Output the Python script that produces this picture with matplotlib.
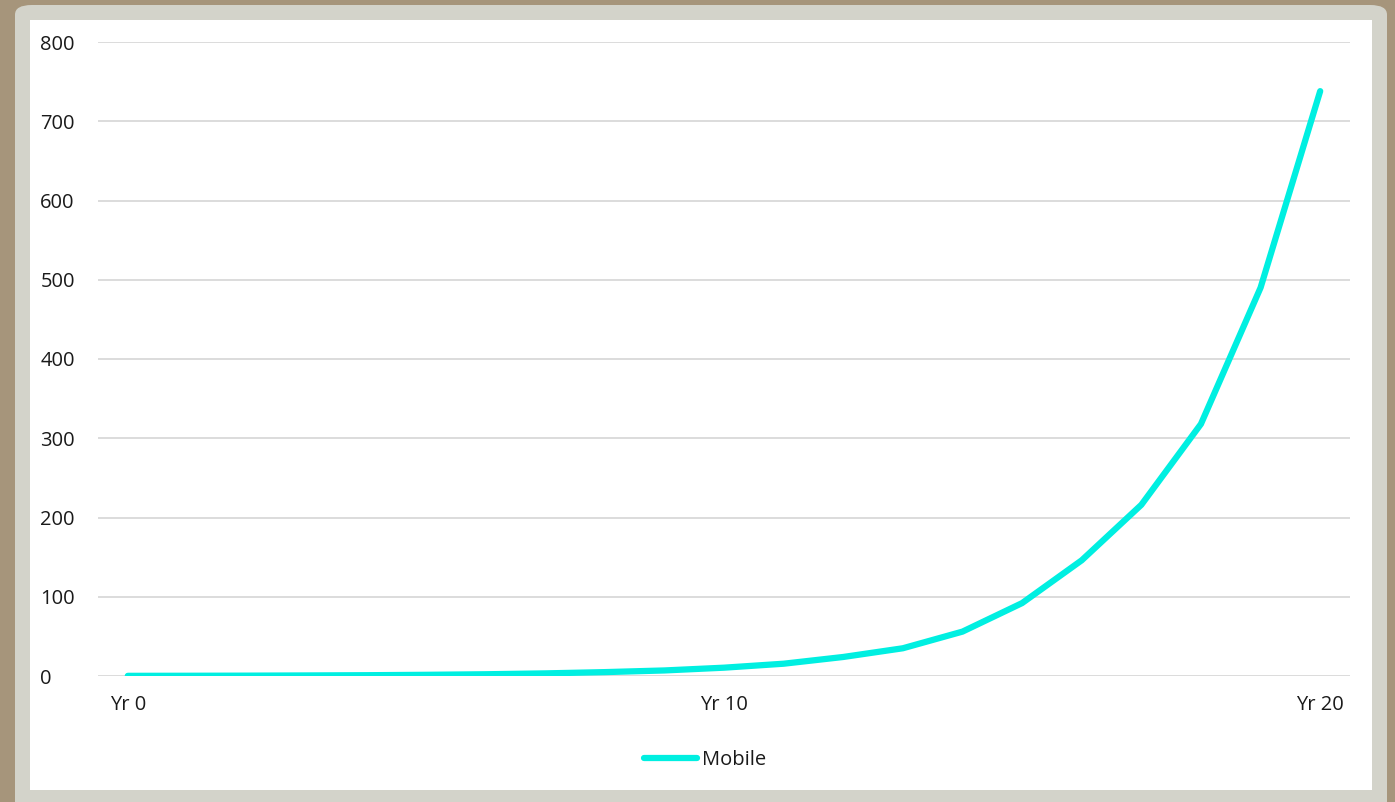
import matplotlib
matplotlib.use("Agg")
import matplotlib.pyplot as plt
from matplotlib.patches import FancyBboxPatch, Rectangle

# Data
years = list(range(21))
tick_positions = [0, 10, 20]
tick_labels = ["Yr 0", "Yr 10", "Yr 20"]
mobile = [0.2, 0.3, 0.45, 0.7, 1.0, 1.5, 2.2, 3.3, 4.9, 7.0, 10.5,
          15.5, 24, 35, 56, 92, 146, 216, 318, 490, 738]
series_name = "Mobile"
y_ticks = [0, 100, 200, 300, 400, 500, 600, 700, 800]

W, H = 1395, 802
fig = plt.figure(figsize=(W / 100, H / 100), dpi=100)
fig.patch.set_facecolor("#a6957b")

# Gray frame and white panel
frame = FancyBboxPatch((15 / W, -20 / H), (1387 - 15) / W, (H - 5 + 20) / H,
                       boxstyle="round,pad=0,rounding_size=0.012",
                       transform=fig.transFigure, facecolor="#d3d3ca",
                       edgecolor="none", zorder=-3)
fig.patches.append(frame)
panel = Rectangle((30 / W, (H - 790) / H), (1372 - 30) / W, (790 - 20) / H,
                  transform=fig.transFigure, facecolor="white",
                  edgecolor="none", zorder=-2)
fig.patches.append(panel)

ax = fig.add_axes([98 / W, (H - 676) / H, (1350 - 98) / W, (676 - 42) / H])
ax.set_facecolor("none")
ax.plot(years, mobile, color="#00efe1", lw=4.5, solid_capstyle="round",
        solid_joinstyle="miter", label=series_name, zorder=3)
ax.set_xlim(-0.5, 20.5)
ax.set_ylim(0, 800)
ax.set_yticks(y_ticks)
ax.set_xticks(tick_positions)
ax.set_xticklabels(tick_labels)
ax.grid(axis="y", color="#d9d9d9", lw=1.3, zorder=0)
ax.set_axisbelow(True)
for s in ax.spines.values():
    s.set_visible(False)
ax.tick_params(length=0, labelsize=14.5, labelcolor="#1a1a1a")
ax.tick_params(axis="y", pad=41.5)
ax.tick_params(axis="x", pad=14)
for lab in ax.get_xticklabels() + ax.get_yticklabels():
    lab.set_fontfamily("Open Sans")
plt.setp(ax.yaxis.get_majorticklabels(), ha="left")

leg = fig.legend(loc="center", bbox_to_anchor=(705 / W, (H - 760) / H),
                 frameon=False, prop={"family": "Open Sans", "size": 14.5},
                 handlelength=2.6, handletextpad=0.25)
for t in leg.get_texts():
    t.set_color("#1a1a1a")

fig.savefig("out.png", dpi=100, facecolor=fig.get_facecolor())
